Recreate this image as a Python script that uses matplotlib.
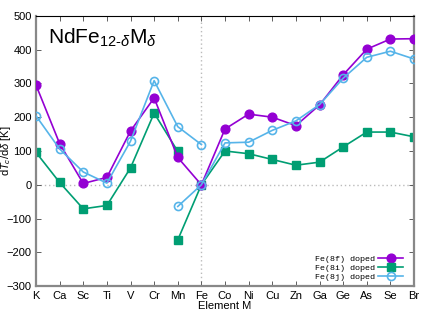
import numpy as np
import matplotlib
matplotlib.use("Agg")
import matplotlib.pyplot as plt
from matplotlib.lines import Line2D

elements = ["K", "Ca", "Sc", "Ti", "V", "Cr", "Mn", "Fe", "Co", "Ni", "Cu",
            "Zn", "Ga", "Ge", "As", "Se", "Br"]

# Fe(8f): continuous K..Br
f8_vals = [295, 122, 4, 22, 159, 257, 81, 0, 165, 209, 200, 175, 236, 325, 401, 431, 432]

# Fe(8i): block 1 K..Mn, block 2 Mn..Br
i8_block1_elems = ["K", "Ca", "Sc", "Ti", "V", "Cr", "Mn"]
i8_block1_vals = [96, 7, -71, -61, 50, 212, 99]
i8_block2_elems = ["Mn", "Fe", "Co", "Ni", "Cu", "Zn", "Ga", "Ge", "As", "Se", "Br"]
i8_block2_vals = [-163, 0, 100, 92, 75, 58, 67, 112, 156, 156, 142]

# Fe(8j): block 1 K..Fe, block 2 Mn..Br
j8_block1_elems = ["K", "Ca", "Sc", "Ti", "V", "Cr", "Mn", "Fe"]
j8_block1_vals = [204, 106, 38, 5, 129, 308, 172, 119]
j8_block2_elems = ["Mn", "Fe", "Co", "Ni", "Cu", "Zn", "Ga", "Ge", "As", "Se", "Br"]
j8_block2_vals = [-64, 0, 124, 126, 161, 189, 237, 315, 377, 395, 372]

yticks = [-300, -200, -100, 0, 100, 200, 300, 400, 500]

plt.rcParams['font.family'] = ['Liberation Sans', 'DejaVu Sans']
plt.rcParams['mathtext.fontset'] = 'custom'
plt.rcParams['mathtext.rm'] = 'Liberation Sans'
plt.rcParams['mathtext.it'] = 'Liberation Sans:italic'

c_f = "#9400D3"
c_i = "#009E73"
c_j = "#56B4E9"

fig = plt.figure(figsize=(4.36, 3.12), dpi=100)
ax = fig.add_axes([36/436, 1-286.3/312, (414-36)/436, (286.3-15.7)/312])

idx = {e: i for i, e in enumerate(elements)}
xf = np.arange(len(elements))

ax.axhline(0, color="#bbbbbb", lw=1.0, ls=(0, (1, 2)), zorder=0)
ax.axvline(idx["Fe"], color="#bbbbbb", lw=1.0, ls=(0, (1, 2)), zorder=0)

ms = 6.3
lw = 1.2
ax.plot(xf, f8_vals, color=c_f, lw=lw, marker="o", ms=ms, zorder=3)
ax.plot([idx[e] for e in i8_block1_elems], i8_block1_vals, color=c_i, lw=lw,
        marker="s", ms=ms, zorder=2)
ax.plot([idx[e] for e in i8_block2_elems], i8_block2_vals, color=c_i, lw=lw,
        marker="s", ms=ms, zorder=2)
ax.plot([idx[e] for e in j8_block1_elems], j8_block1_vals, color=c_j, lw=lw,
        marker="o", ms=ms-0.5, mfc="none", mew=1.2, zorder=4)
ax.plot([idx[e] for e in j8_block2_elems], j8_block2_vals, color=c_j, lw=lw,
        marker="o", ms=ms-0.5, mfc="none", mew=1.2, zorder=4)

ax.set_xlim(0, len(elements)-1)
ax.set_ylim(-300, 500)
ax.set_xticks(xf)
ax.set_xticklabels(elements)
ax.set_yticks(yticks)
ax.tick_params(direction="in", length=3.5, width=0.6, labelsize=8,
               top=True, right=True, color="#444444")
ax.tick_params(axis="x", pad=3.5)
ax.tick_params(axis="y", pad=3)

for s in ["left", "bottom", "right"]:
    ax.spines[s].set_color("#888888")
    ax.spines[s].set_linewidth(1.6)
ax.spines["top"].set_color("black")
ax.spines["top"].set_linewidth(0.8)

ax.set_xlabel("Element M", fontsize=8, labelpad=0)
ax.set_ylabel(r"d$T_c$/d$\delta$ [K]", fontsize=8)
ax.yaxis.set_label_coords(-0.062, 0.5)

ax.text(0.032, 0.895, r"NdFe$_{12\text{-}\delta}$M$_{\delta}$", transform=ax.transAxes,
        fontsize=15, ha="left", va="baseline")

handles = [
    Line2D([], [], color=c_f, lw=lw, marker="o", ms=ms),
    Line2D([], [], color=c_i, lw=lw, marker="s", ms=ms),
    Line2D([], [], color=c_j, lw=lw, marker="o", ms=ms-0.5, mfc="none", mew=1.2),
]
labels = ["Fe(8f) doped", "Fe(8i) doped", "Fe(8j) doped"]
leg = ax.legend(handles, labels, loc="lower right", frameon=False,
                markerfirst=False, prop={"family": "Liberation Mono", "size": 6},
                handlelength=3.0, labelspacing=0.15, borderaxespad=0.2,
                handletextpad=0.4, bbox_to_anchor=(0.985, 0.0))

fig.savefig("out.png", dpi=100)
